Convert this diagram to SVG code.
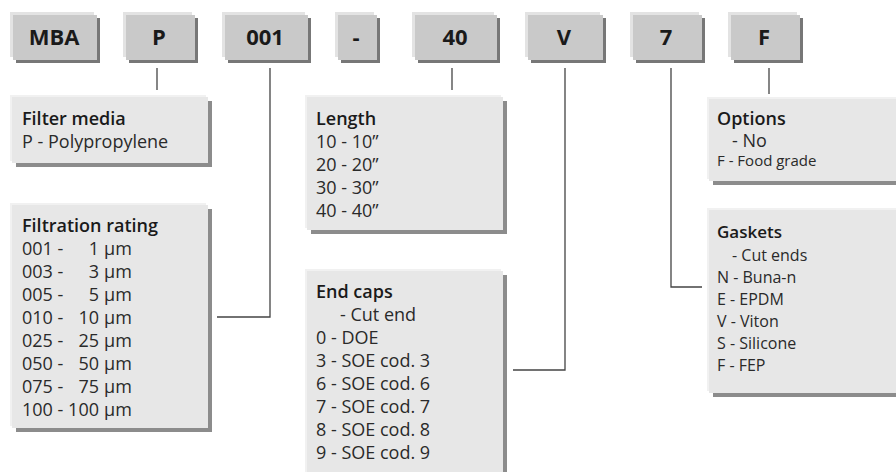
<svg xmlns="http://www.w3.org/2000/svg" width="896" height="472" viewBox="0 0 896 472">
<style>
.hl{fill:#e3e3e3}
.mn{fill:#c9c9c9}
.sh{fill:#777777}
.ihl{fill:#f1f1f1}
.imn{fill:#e7e7e7}
.ish{fill:#8c8c8c}
.code{font-family:"Open Sans","Liberation Sans",sans-serif;font-weight:700;font-size:22px;fill:#1a1a1a;text-anchor:middle}
.ttl{font-family:"Open Sans","Liberation Sans",sans-serif;font-weight:600;font-size:18px;fill:#1a1a1a}
.txt{font-family:"Open Sans","Liberation Sans",sans-serif;font-size:18px;fill:#2a2a2a}
.sm{font-size:16px}
.xs{font-size:15px}
.conn{fill:none;stroke:#444;stroke-width:1.3}
</style>
<g id="connectors">
<path class="conn" d="M157 68V90"/>
<path class="conn" d="M270 68V317H217"/>
<path class="conn" d="M452 68V90"/>
<path class="conn" d="M565 68V370H513"/>
<path class="conn" d="M671 68V287H702"/>
<path class="conn" d="M769 68V94"/>
</g>
<g id="code-MBA">
<rect class="sh" x="16" y="18" width="84" height="45"/><rect class="hl" x="10" y="12" width="84" height="45"/><rect class="mn" x="13" y="15" width="84" height="45"/>
<text class="code" x="54" y="45">MBA</text>
</g>
<g id="code-P">
<rect class="sh" x="129" y="18" width="69" height="45"/><rect class="hl" x="123" y="12" width="69" height="45"/><rect class="mn" x="126" y="15" width="69" height="45"/>
<text class="code" x="159" y="45">P</text>
</g>
<g id="code-001">
<rect class="sh" x="228" y="18" width="83" height="45"/><rect class="hl" x="222" y="12" width="83" height="45"/><rect class="mn" x="225" y="15" width="83" height="45"/>
<text class="code" x="265" y="45">001</text>
</g>
<g id="code-dash">
<rect class="sh" x="341" y="18" width="39" height="45"/><rect class="hl" x="335" y="12" width="39" height="45"/><rect class="mn" x="338" y="15" width="39" height="45"/>
<text class="code" x="356" y="45">-</text>
</g>
<g id="code-40">
<rect class="sh" x="418" y="18" width="82" height="45"/><rect class="hl" x="412" y="12" width="82" height="45"/><rect class="mn" x="415" y="15" width="82" height="45"/>
<text class="code" x="455" y="45">40</text>
</g>
<g id="code-V">
<rect class="sh" x="531" y="18" width="75" height="45"/><rect class="hl" x="525" y="12" width="75" height="45"/><rect class="mn" x="528" y="15" width="75" height="45"/>
<text class="code" x="564" y="45">V</text>
</g>
<g id="code-7">
<rect class="sh" x="636" y="18" width="69" height="45"/><rect class="hl" x="630" y="12" width="69" height="45"/><rect class="mn" x="633" y="15" width="69" height="45"/>
<text class="code" x="666" y="45">7</text>
</g>
<g id="code-F">
<rect class="sh" x="734" y="18" width="69" height="45"/><rect class="hl" x="728" y="12" width="69" height="45"/><rect class="mn" x="731" y="15" width="69" height="45"/>
<text class="code" x="764" y="45">F</text>
</g>
<g id="filter-media">
<rect class="ish" x="16" y="101" width="196" height="66"/><rect class="ihl" x="10" y="95" width="196" height="66"/><rect class="imn" x="12" y="97" width="196" height="66"/>
<text class="ttl" x="22" y="125">Filter media</text>
<text class="txt" x="22" y="148">P - Polypropylene</text>
</g>
<g id="filtration-rating">
<rect class="ish" x="16" y="209" width="196" height="223"/><rect class="ihl" x="10" y="203" width="196" height="223"/><rect class="imn" x="12" y="205" width="196" height="223"/>
<text class="ttl" x="22" y="232">Filtration rating</text>
<text class="txt"><tspan x="22" y="255">001 -</tspan><tspan x="99" y="255" text-anchor="end">1</tspan><tspan x="104" y="255">µm</tspan></text>
<text class="txt"><tspan x="22" y="278">003 -</tspan><tspan x="99" y="278" text-anchor="end">3</tspan><tspan x="104" y="278">µm</tspan></text>
<text class="txt"><tspan x="22" y="301">005 -</tspan><tspan x="99" y="301" text-anchor="end">5</tspan><tspan x="104" y="301">µm</tspan></text>
<text class="txt"><tspan x="22" y="324">010 -</tspan><tspan x="99" y="324" text-anchor="end">10</tspan><tspan x="104" y="324">µm</tspan></text>
<text class="txt"><tspan x="22" y="347">025 -</tspan><tspan x="99" y="347" text-anchor="end">25</tspan><tspan x="104" y="347">µm</tspan></text>
<text class="txt"><tspan x="22" y="370">050 -</tspan><tspan x="99" y="370" text-anchor="end">50</tspan><tspan x="104" y="370">µm</tspan></text>
<text class="txt"><tspan x="22" y="393">075 -</tspan><tspan x="99" y="393" text-anchor="end">75</tspan><tspan x="104" y="393">µm</tspan></text>
<text class="txt"><tspan x="22" y="416">100 -</tspan><tspan x="99" y="416" text-anchor="end">100</tspan><tspan x="104" y="416">µm</tspan></text>
</g>
<g id="length">
<rect class="ish" x="311" y="101" width="196" height="133"/><rect class="ihl" x="305" y="95" width="196" height="133"/><rect class="imn" x="307" y="97" width="196" height="133"/>
<text class="ttl" x="316" y="125">Length</text>
<text class="txt" x="316" y="148">10 - 10”</text>
<text class="txt" x="316" y="171">20 - 20”</text>
<text class="txt" x="316" y="194">30 - 30”</text>
<text class="txt" x="316" y="217">40 - 40”</text>
</g>
<g id="end-caps">
<rect class="ish" x="311" y="275" width="196" height="210"/><rect class="ihl" x="305" y="269" width="196" height="210"/><rect class="imn" x="307" y="271" width="196" height="210"/>
<text class="ttl" x="316" y="298">End caps</text>
<text class="txt" x="340" y="321">- Cut end</text>
<text class="txt" x="316" y="344">0 - DOE</text>
<text class="txt" x="316" y="367">3 - SOE cod. 3</text>
<text class="txt" x="316" y="390">6 - SOE cod. 6</text>
<text class="txt" x="316" y="413">7 - SOE cod. 7</text>
<text class="txt" x="316" y="436">8 - SOE cod. 8</text>
<text class="txt" x="316" y="459">9 - SOE cod. 9</text>
</g>
<g id="options">
<rect class="ish" x="713" y="103" width="200" height="82"/><rect class="ihl" x="707" y="97" width="200" height="82"/><rect class="imn" x="709" y="99" width="200" height="82"/>
<text class="ttl" x="717" y="125">Options</text>
<text class="txt" x="732" y="147">- No</text>
<text class="txt xs" x="717" y="166">F - Food grade</text>
</g>
<g id="gaskets">
<rect class="ish" x="713" y="214" width="200" height="183"/><rect class="ihl" x="707" y="208" width="200" height="183"/><rect class="imn" x="709" y="210" width="200" height="183"/>
<text class="ttl" x="717" y="238" style="font-size:17px">Gaskets</text>
<text class="txt sm" x="732" y="261">- Cut ends</text>
<text class="txt sm" x="717" y="283">N - Buna-n</text>
<text class="txt sm" x="717" y="305">E - EPDM</text>
<text class="txt sm" x="717" y="327">V - Viton</text>
<text class="txt sm" x="717" y="349">S - Silicone</text>
<text class="txt sm" x="717" y="371">F - FEP</text>
</g>
</svg>
